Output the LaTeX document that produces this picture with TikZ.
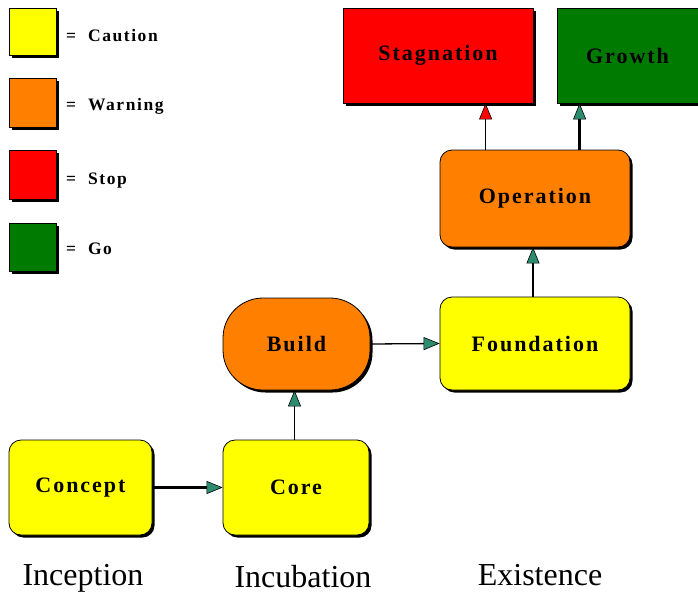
\documentclass[tikz,border=0pt]{standalone}
\usepackage{fontspec}
\setmainfont{Liberation Serif}
\newfontfamily\boxfont[LetterSpace=9]{Liberation Serif Bold}
\usetikzlibrary{arrows.meta,shadows}
\definecolor{cyel}{RGB}{255,255,0}
\definecolor{cora}{RGB}{255,128,0}
\definecolor{cred}{RGB}{255,0,0}
\definecolor{cgrn}{RGB}{0,122,0}
\definecolor{cteal}{RGB}{46,140,110}
\tikzset{
  sh/.style={drop shadow={shadow xshift=2.5pt,shadow yshift=-2.5pt,fill=black,opacity=1}},
  boxn/.style={draw=black,line width=0.8pt,sh,inner sep=0pt,font=\boxfont\fontsize{22}{26}\selectfont},
  legbox/.style={draw=black,line width=0.8pt,sh,inner sep=0pt,minimum width=47pt},
  legtxt/.style={anchor=west,inner sep=0pt,font=\boxfont\fontsize{17.5}{20}\selectfont},
  stage/.style={inner sep=0pt,font=\fontsize{32}{36}\selectfont},
  arr/.style={line width=1.3pt,-{Triangle[length=16pt,width=13pt,fill=cteal,line width=0.6pt]}},
  arrthick/.style={arr,line width=2.6pt},
  arrred/.style={line width=1.3pt,-{Triangle[length=16pt,width=13pt,fill=cred,line width=0.6pt]}}
}
\begin{document}
\begin{tikzpicture}[x=1pt,y=-1pt]
\useasboundingbox (0,0) rectangle (698,597);
% legend
\node[legbox,fill=cyel,minimum height=47pt] (l1) at (32.5,31.5) {};
\node[legbox,fill=cora,minimum height=49pt] (l2) at (32.5,102.5) {};
\node[legbox,fill=cred,minimum height=49pt] (l3) at (32.5,174.5) {};
\node[legbox,fill=cgrn,minimum height=48pt] (l4) at (32.5,247) {};
\node[legtxt] (t1) at (66,36) {=\ \ Caution};
\node[legtxt] (t2) at (66,106) {=\ \ Warning};
\node[legtxt] (t3) at (66,181) {=\ \ Stop};
\node[legtxt] (t4) at (66,249) {=\ \ Go};
% boxes
\node[boxn,fill=cred,minimum width=190pt,minimum height=95pt] (stag) at (438,55.5) {Stagnation};
\node[boxn,fill=cgrn,minimum width=141pt,minimum height=95pt] (grow) at (627.5,55.5) {Growth};
\node[boxn,fill=cora,rounded corners=12pt,minimum width=190pt,minimum height=97pt] (oper) at (535,198.5) {Operation};
\node[boxn,fill=cyel,rounded corners=12pt,minimum width=190pt,minimum height=93pt] (found) at (535,343.5) {Foundation};
\node[boxn,fill=cora,rounded corners=40pt,minimum width=147pt,minimum height=92pt] (build) at (296.5,344) {Build};
\node[boxn,fill=cyel,rounded corners=12pt,minimum width=143pt,minimum height=95pt] (concept) at (80.5,487.5) {Concept};
\node[boxn,fill=cyel,rounded corners=12pt,minimum width=146pt,minimum height=95pt] (core) at (296,487.5) {Core};
% stage labels
\node[stage] (s1) at (83,578) {Inception};
\node[stage] (s2) at (303,577) {Incubation};
\node[stage] (s3) at (540,575) {Existence};
% connectors
\draw[arrthick] (concept.east) -- (core.west);
\draw[arr] ([xshift=-1.5pt]core.north) -- ([xshift=-1.5pt]core.north |- build.south);
\draw[arr] (build.east) -- (found.west);
\draw[arr] ([xshift=-2pt]found.north) -- ([xshift=-2pt]found.north |- oper.south);
\draw[arrred] ([xshift=46pt]oper.north west) -- ([xshift=46pt]oper.north west |- stag.south);
\draw[arrthick] ([xshift=140pt]oper.north west) -- ([xshift=140pt]oper.north west |- grow.south);
\end{tikzpicture}
\end{document}
